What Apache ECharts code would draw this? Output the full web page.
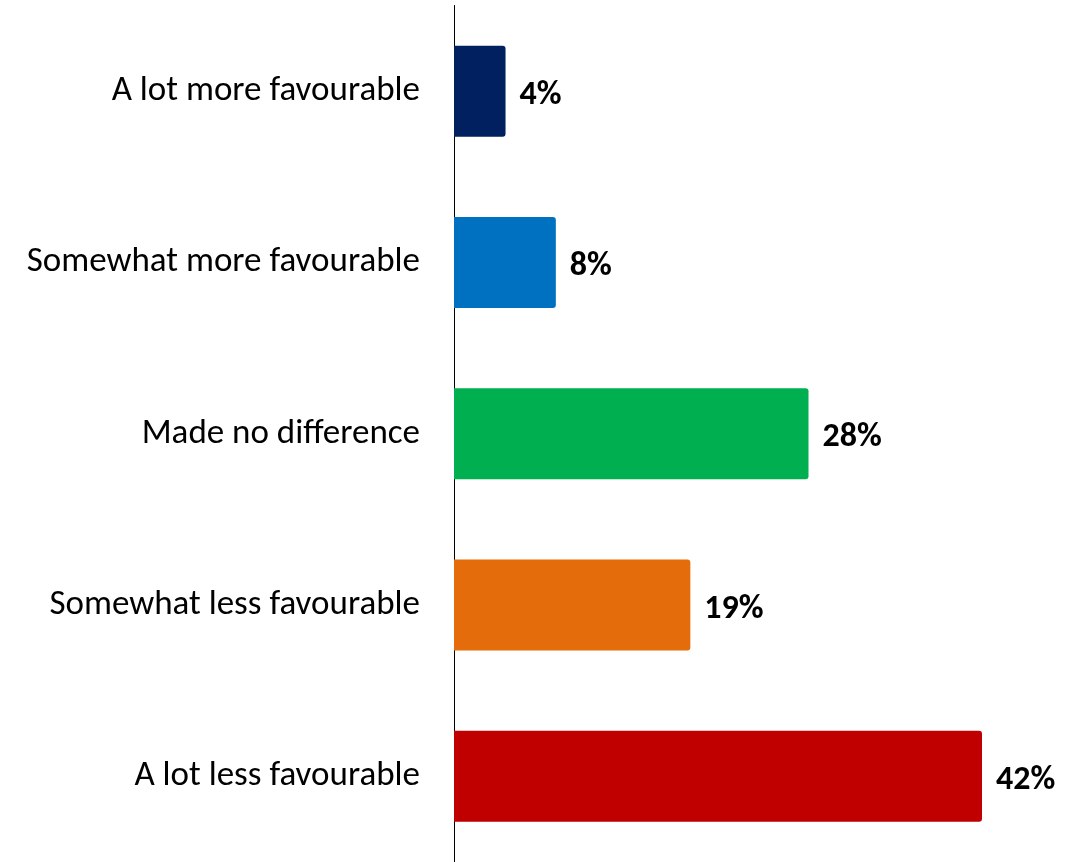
<!DOCTYPE html>
<html>
<head>
<meta charset="utf-8">
<script src="https://cdn.jsdelivr.net/npm/echarts@6/dist/echarts.min.js"></script>
<style>
html,body{margin:0;padding:0;background:#fff;}
#chart{width:1081px;height:862px;}
</style>
</head>
<body>
<div id="chart"></div>
<script>
const categories = ["A lot more favourable","Somewhat more favourable","Made no difference","Somewhat less favourable","A lot less favourable"];
const values = [4.1, 8.1, 28.2, 18.8, 42.0];
const colors = ["#002060","#0070C0","#00B050","#E46C0A","#C00000"];

const FONT = "Carlito, Lato, 'Open Sans', sans-serif";
const chart = echarts.init(document.getElementById('chart'));
chart.setOption({
  animation: false,
  grid: {left: 454, top: 5.5, width: 528, height: 860, containLabel: false},
  xAxis: {
    type: 'value', min: 0, max: 42,
    show: false
  },
  yAxis: {
    type: 'category', data: categories, inverse: true,
    axisLine: {show: true, lineStyle: {color: '#000', width: 1}},
    axisTick: {show: false},
    axisLabel: {color: '#000', fontSize: 35, fontFamily: FONT, margin: 34, padding: [11, 0, 0, 0]}
  },
  series: [{
    type: 'bar',
    data: values.map((v, i) => ({value: v, itemStyle: {color: colors[i]}})),
    barWidth: 91,
    itemStyle: {borderRadius: [0, 3, 3, 0]},
    label: {
      show: true, position: 'right', distance: 14, offset: [0, 4],
      formatter: p => Math.round(p.value) + '%',
      color: '#000', fontSize: 34, fontWeight: 'bold', fontFamily: FONT
    }
  }]
});
</script>
</body>
</html>
